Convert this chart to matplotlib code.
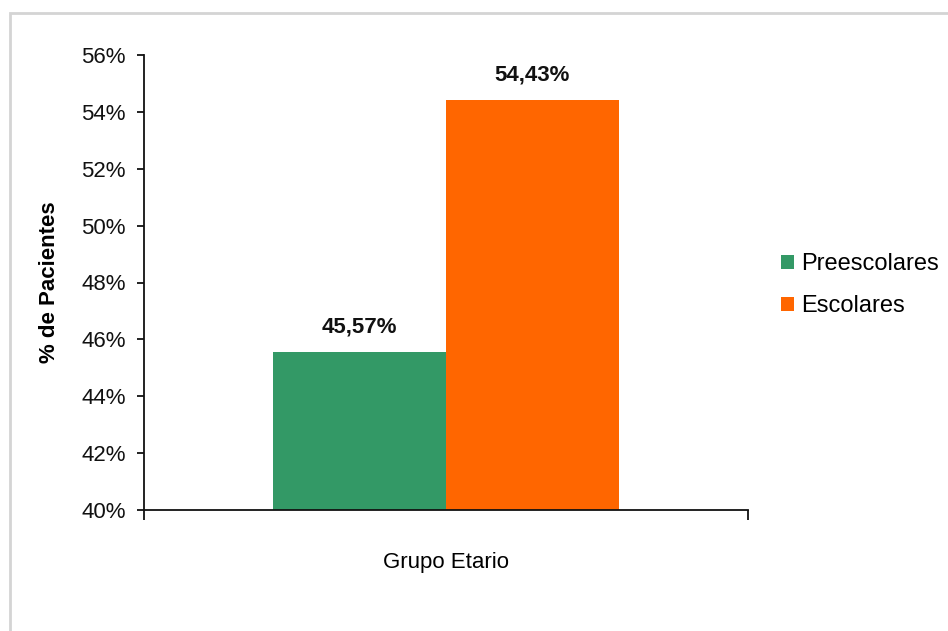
import matplotlib.pyplot as plt
from matplotlib.patches import Patch, Rectangle
from matplotlib.ticker import FuncFormatter

plt.rcParams['font.family'] = ['Liberation Sans', 'DejaVu Sans']

# Data
groups = ['Preescolares', 'Escolares']
values = [45.57, 54.43]
colors = ['#339966', '#FF6600']
value_labels = ['45,57%', '54,43%']
y_ticks = [40, 42, 44, 46, 48, 50, 52, 54, 56]

fig = plt.figure(figsize=(9.48, 6.31), dpi=100)

# Light grey frame around the chart area
fig.patches.append(Rectangle((10 / 948, -0.1), 1.2, 1 - 13 / 631 + 0.1,
                             transform=fig.transFigure, fill=False,
                             edgecolor='#d4d4d4', linewidth=2.0))

ax = fig.add_axes([144 / 948, 1 - 510 / 631, 604 / 948, 455 / 631])

bar_w = 173 / 604
lefts = [0.5 - bar_w, 0.5]
for left, val, col, lab in zip(lefts, values, colors, value_labels):
    ax.bar(left, val - 40, bottom=40, width=bar_w, align='edge', color=col,
           linewidth=0)
    ax.text(left + bar_w / 2, val + 0.5, lab, ha='center', va='bottom',
            fontsize=16, fontweight='bold', color='#111111')

ax.set_xlim(0, 1)
ax.set_ylim(40, 56)
ax.set_yticks(y_ticks)
ax.yaxis.set_major_formatter(FuncFormatter(lambda v, p: f'{v:.0f}%'))
ax.set_xticks([0, 1])
ax.set_xticklabels(['', ''])

for side in ['top', 'right']:
    ax.spines[side].set_visible(False)
for side in ['left', 'bottom']:
    ax.spines[side].set_linewidth(1.3)
    ax.spines[side].set_color('#111111')

ax.tick_params(axis='y', direction='out', length=5, width=1.3,
               labelsize=16, pad=8, colors='#111111')
ax.tick_params(axis='x', direction='out', length=7, width=1.3,
               colors='#111111')

ax.set_ylabel('% de Pacientes', fontsize=16, fontweight='bold')
ax.yaxis.set_label_coords(-84 / 604, 0.5)
ax.set_xlabel('Grupo Etario', fontsize=16)
ax.xaxis.set_label_coords(0.5, -42 / 455)

handles = [Patch(facecolor=c, edgecolor='none') for c in colors]
fig.legend(handles, groups, loc='center left',
           bbox_to_anchor=(781 / 948, 1 - 285 / 631), frameon=False,
           fontsize=17, handlelength=0.55, handleheight=0.55,
           handletextpad=0.3, labelspacing=0.85, borderpad=0,
           borderaxespad=0)

fig.savefig('out.png', dpi=100)
